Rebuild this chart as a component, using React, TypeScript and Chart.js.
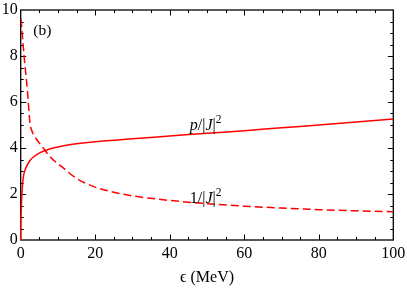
import React, { useEffect, useRef } from "react";
import { Chart, registerables } from "chart.js";

Chart.register(...registerables);

// Solid curve: p/|J|^2
const epsSolid = [0, 0.05, 0.18, 0.36, 0.72, 1.2, 1.8, 2.5, 3.5, 5.2, 8, 11, 15, 20, 30, 40, 50, 60, 70, 80, 90, 100];
const pOverJ2 = [0, 0.8, 1.45, 2.1, 2.75, 3.05, 3.28, 3.46, 3.62, 3.8, 3.97, 4.08, 4.18, 4.27, 4.4, 4.52, 4.64, 4.75, 4.88, 5.0, 5.13, 5.26];

// Dashed curve: 1/|J|^2
const epsDashed = [0.1, 0.9, 1.8, 2.5, 3, 3.8, 6.1, 8, 11, 15, 20, 25, 30, 40, 50, 60, 70, 80, 90, 100];
const invJ2 = [9.6, 8.0, 6.5, 5.07, 4.75, 4.49, 3.99, 3.6, 3.19, 2.68, 2.3, 2.08, 1.92, 1.72, 1.58, 1.47, 1.39, 1.32, 1.27, 1.23];

const xTicks = [0, 20, 40, 60, 80, 100];
const yTicks = [0, 2, 4, 6, 8, 10];
const xTitle = "\u03F5 (MeV)";
const panelLabel = "(b)";

// curve labels: [eps, value] anchor (left, baseline) in data units
const pLabelAt = [45.4, 4.78];
const invLabelAt = [45.4, 1.62];
const panelAt = [3.4, 8.9];

const SERIF = "'Liberation Serif', 'DejaVu Serif', 'Times New Roman', serif";

function drawParts(ctx: CanvasRenderingContext2D, x: number, y: number, parts: [string, string, number][]) {
  let cx = x;
  for (const [txt, style, dy] of parts) {
    ctx.font = style;
    ctx.fillText(txt, cx, y + dy);
    cx += ctx.measureText(txt).width;
  }
}

const framePlugin = {
  id: "frameTicks",
  beforeDatasetsDraw(chart: any) {
    const { ctx, chartArea } = chart;
    const { left, right, top, bottom } = chartArea;
    const xs = chart.scales.x;
    const ys = chart.scales.y;
    ctx.save();
    ctx.strokeStyle = "#000";
    ctx.lineWidth = 1.3;
    ctx.strokeRect(left, top, right - left, bottom - top);
    ctx.lineWidth = 1;
    ctx.beginPath();
    for (let v = 5; v < 100; v += 5) {
      const px = Math.round(xs.getPixelForValue(v)) + 0.5;
      const len = v % 20 === 0 ? 5.5 : 3;
      ctx.moveTo(px, bottom);
      ctx.lineTo(px, bottom - len);
      ctx.moveTo(px, top);
      ctx.lineTo(px, top + len);
    }
    for (let v = 0.5; v < 10; v += 0.5) {
      const py = Math.round(ys.getPixelForValue(v)) + 0.5;
      const len = v % 2 === 0 ? 5.5 : 3;
      ctx.moveTo(left, py);
      ctx.lineTo(left + len, py);
      ctx.moveTo(right, py);
      ctx.lineTo(right - len, py);
    }
    ctx.stroke();
    ctx.restore();
  },
  afterDraw(chart: any) {
    const { ctx } = chart;
    const xs = chart.scales.x;
    const ys = chart.scales.y;
    ctx.save();
    ctx.fillStyle = "#000";
    ctx.textBaseline = "alphabetic";
    ctx.textAlign = "left";
    const it = `italic 16px ${SERIF}`;
    const rm = `16px ${SERIF}`;
    const sup = `11.5px ${SERIF}`;
    drawParts(ctx, xs.getPixelForValue(pLabelAt[0]), ys.getPixelForValue(pLabelAt[1]), [
      ["p", it, 0],
      ["/|", rm, 0],
      ["J", it, 0],
      ["|", rm, 0],
      ["2", sup, -7],
    ]);
    drawParts(ctx, xs.getPixelForValue(invLabelAt[0]), ys.getPixelForValue(invLabelAt[1]), [
      ["1/|", rm, 0],
      ["J", it, 0],
      ["|", rm, 0],
      ["2", sup, -7],
    ]);
    ctx.font = `15.5px ${SERIF}`;
    ctx.fillText(panelLabel, xs.getPixelForValue(panelAt[0]), ys.getPixelForValue(panelAt[1]));
    ctx.restore();
  },
};

export default function App() {
  const ref = useRef<HTMLCanvasElement | null>(null);
  useEffect(() => {
    if (!ref.current) return;
    const chart = new Chart(ref.current, {
      type: "line",
      data: {
        datasets: [
          {
            label: "p/|J|^2",
            data: epsSolid.map((x, i) => ({ x, y: pOverJ2[i] })),
            borderColor: "#ff0000",
            borderWidth: 1.5,
            pointRadius: 0,
            cubicInterpolationMode: "monotone",
            fill: false,
            clip: 2,
          },
          {
            label: "1/|J|^2",
            data: epsDashed.map((x, i) => ({ x, y: invJ2[i] })),
            borderColor: "#ff0000",
            borderWidth: 1.5,
            borderDash: [8, 4],
            pointRadius: 0,
            cubicInterpolationMode: "monotone",
            fill: false,
          },
        ],
      },
      options: {
        animation: false,
        responsive: false,
        maintainAspectRatio: false,
        layout: { padding: { top: 10, right: 13.7, left: 0, bottom: 0 } },
        plugins: { legend: { display: false }, tooltip: { enabled: false } },
        scales: {
          x: {
            type: "linear",
            min: 0,
            max: 100,
            afterFit: (s: any) => {
              s.height = 50;
              s.paddingLeft = 0;
              s.paddingRight = 0;
            },
            afterBuildTicks: (s: any) => {
              s.ticks = xTicks.map((v) => ({ value: v }));
            },
            grid: { display: false, drawTicks: false },
            border: { display: false },
            ticks: {
              color: "#000",
              font: { family: SERIF, size: 16 },
              padding: 4,
              maxRotation: 0,
            },
            title: {
              display: true,
              text: xTitle,
              color: "#000",
              font: { family: SERIF, size: 16 },
              padding: { top: 4, bottom: 3 },
            },
          },
          y: {
            type: "linear",
            min: 0,
            max: 10,
            afterFit: (s: any) => {
              s.width = 20.7;
              s.paddingTop = 0;
              s.paddingBottom = 0;
            },
            afterBuildTicks: (s: any) => {
              s.ticks = yTicks.map((v) => ({ value: v }));
            },
            grid: { display: false, drawTicks: false },
            border: { display: false },
            ticks: {
              color: "#000",
              font: { family: SERIF, size: 16 },
              padding: 3,
            },
          },
        },
      },
      plugins: [framePlugin],
    } as any);
    return () => chart.destroy();
  }, []);
  return (
    <div style={{ position: "fixed", left: 0, top: 0, width: 407, height: 290, background: "#fff" }}>
      <canvas ref={ref} width={407} height={290} style={{ display: "block" }} />
    </div>
  );
}
